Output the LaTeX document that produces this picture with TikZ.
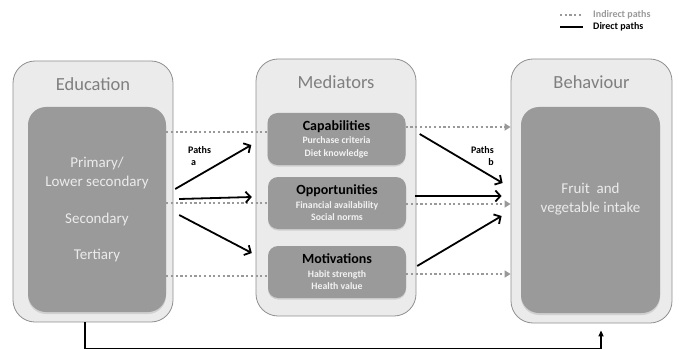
\documentclass[tikz,border=0pt]{standalone}
\usepackage{fontspec}
\setmainfont{Carlito}
\usetikzlibrary{arrows.meta, positioning, calc, shadows}

\definecolor{boxgray}{HTML}{EBEBEB}
\definecolor{framegray}{HTML}{8F8F8F}
\definecolor{innergray}{HTML}{9A9A9A}
\definecolor{titlegray}{HTML}{7F7F7F}
\definecolor{pathgray}{HTML}{999999}
\definecolor{itemgray}{HTML}{F2F2F2}

\tikzset{
  outerbox/.style={draw=framegray, fill=boxgray, line width=0.8pt, rounded corners=22pt, minimum width=160pt},
  innerbox/.style={fill=innergray, rounded corners=18pt, minimum width=138pt, minimum height=205pt,
    drop shadow={opacity=0.25, shadow xshift=0pt, shadow yshift=-2pt}},
  factorbox/.style={fill=innergray, rounded corners=10pt, minimum width=138pt, minimum height=52pt,
    align=center, text=itemgray, font=\fontsize{9.8}{12.5}\selectfont\bfseries,
    drop shadow={opacity=0.25, shadow xshift=0pt, shadow yshift=-1.5pt}},
  boxtitle/.style={text=titlegray, font=\fontsize{18.5}{20}\selectfont},
  levels/.style={text=boxgray, align=center, font=\fontsize{15}{19}\selectfont},
  direct/.style={line width=1.8pt, -{Straight Barb[length=5pt,width=11pt,line width=1.8pt]}},
  indirect/.style={pathgray, line width=2.4pt, dash pattern=on 2.2pt off 2.5pt},
  indirectarrow/.style={indirect, -{Triangle[length=6pt,width=7pt]}},
  pathlabel/.style={inner sep=0pt, font=\fontsize{10}{12}\selectfont\bfseries},
  legendtext/.style={inner sep=0pt, anchor=west, font=\fontsize{10}{12}\selectfont\bfseries}
}

% bold black heading on top of the two item lines
\newcommand{\factortitle}[1]{{\fontsize{14}{14}\selectfont\color{black}#1}}

\begin{document}
\begin{tikzpicture}[x=1pt, y=-1pt]
\useasboundingbox (0,0) rectangle (679,350);

% Outer panels
\node[outerbox, minimum height=261pt] (edu) at (93,191.5) {};
\node[outerbox, minimum height=257pt] (med) at (336,187.5) {};
\node[outerbox, minimum width=161pt, minimum height=264pt] (beh) at (591.5,191) {};

\node[boxtitle] (edutitle) at ($(edu.north)+(0,24)$) {Education};
\node[boxtitle] (medtitle) at ($(med.north)+(0,24)$) {Mediators};
\node[boxtitle] (behtitle) at ($(beh.north)+(0,24)$) {Behaviour};

% Inner boxes
\node[innerbox] (eduin) at (97,209.5) {};
\node[innerbox, minimum width=139pt, minimum height=206pt] (behin) at (590.5,210) {};

\node[levels] (edulevels) at (eduin.center)
  {Primary/\\Lower secondary\\[18pt]Secondary\\[17pt]Tertiary};
\node[levels] (fvintake) at ($(behin.center)+(0,-11)$) {Fruit~~and\\vegetable intake};

\node[factorbox] (cap) at (336.5,139) {\factortitle{Capabilities}\\[1pt]Purchase criteria\\Diet knowledge};
\node[factorbox] (opp) at (337,203) {\factortitle{Opportunities}\\[1pt]Financial availability\\Social norms};
\node[factorbox] (mot) at (337,272) {\factortitle{Motivations}\\[1pt]Habit strength\\Health value};

% Indirect paths (dotted)
\draw[indirect] (eduin.east |- 0,132) -- ($(cap.west)+(0,-7)$);
\draw[indirect] (eduin.east |- opp.west) -- (opp.west);
\draw[indirect] (eduin.east |- 0,276) -- ($(mot.west)+(0,4)$);
\draw[indirectarrow] ($(cap.east)+(0,-12)$) -- (beh.west |- 0,127);
\draw[indirectarrow] ($(opp.east)+(0,1)$) -- (beh.west |- 0,204);
\draw[indirectarrow] ($(mot.east)+(0,2)$) -- (beh.west |- 0,274);

% Direct paths a
\draw[direct] ($(eduin.east)+(9,-20.5)$) -- ($(cap.west)+(-16,6)$);
\draw[direct] ($(eduin.east)+(13,-10.5)$) -- ($(opp.west)+(-16,-6)$);
\draw[direct] ($(eduin.east)+(13,5.5)$) -- ($(mot.west)+(-16,-19)$);
\node[pathlabel, align=left, anchor=north west] (patha) at (188,146) {Paths\\\hspace{3pt}a};

% Direct paths b
\draw[direct] ($(cap.east)+(14,-5)$) -- ($(beh.west)+(-8,-8)$);
\draw[direct] ($(opp.east)+(9,-7)$) -- ($(beh.west)+(-9,5)$);
\draw[direct] ($(mot.east)+(11,-6)$) -- ($(beh.west)+(-9,25)$);
\node[pathlabel, align=right, anchor=north east] (pathb) at (494,146) {Paths\\b\hspace{3pt}};

% Direct path from education to behaviour
\draw[line width=1.8pt, -{Triangle[length=6pt,width=5pt]}, shorten >=7pt]
  ([xshift=-8pt]edu.south) -- ++(0,26) -| ([xshift=9.5pt]beh.south);

% Legend
\node[legendtext, text=pathgray] (lgind) at (593,15) {Indirect paths};
\node[legendtext] (lgdir) at (593,27) {Direct paths};
\draw[indirect] ([xshift=-33pt]lgind.west) -- ([xshift=-10pt]lgind.west);
\draw[line width=1.8pt] ([xshift=-33pt]lgdir.west) -- ([xshift=-10pt]lgdir.west);

\end{tikzpicture}
\end{document}
